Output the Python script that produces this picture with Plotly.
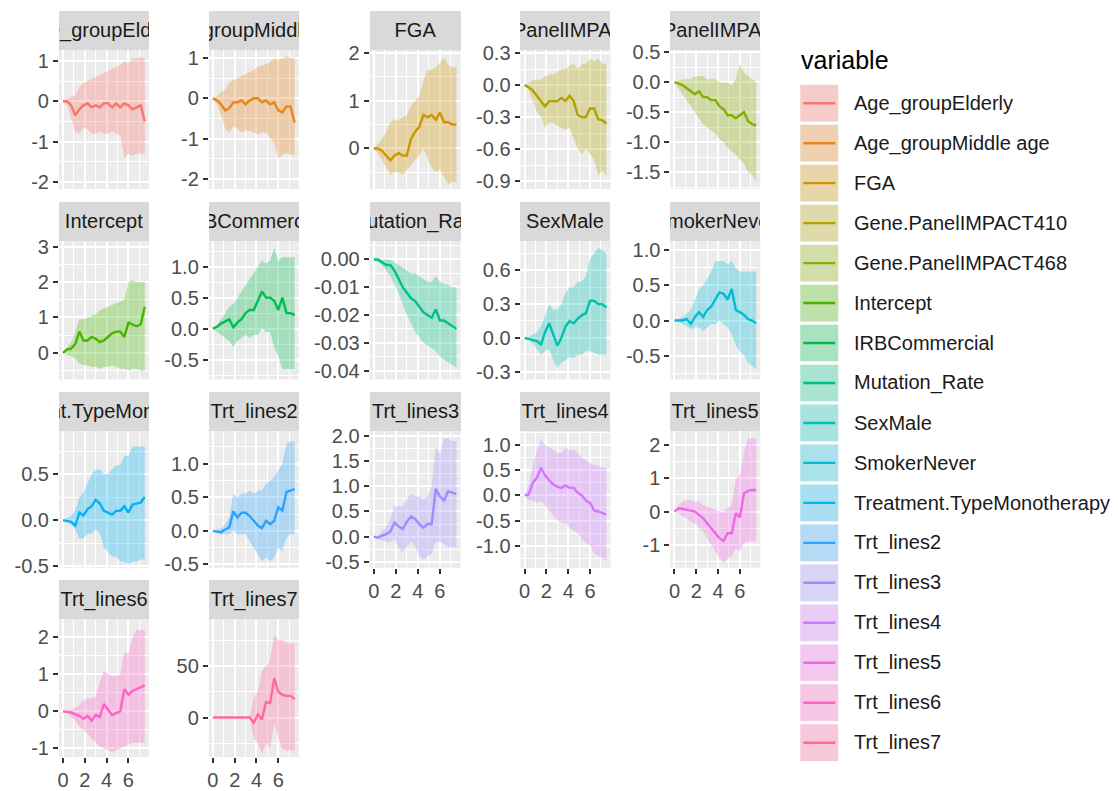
import math
import plotly.graph_objects as go

# ---------------- data ----------------
VARIABLES = ["Age_groupElderly", "Age_groupMiddle age", "FGA", "Gene.PanelIMPACT410",
             "Gene.PanelIMPACT468", "Intercept", "IRBCommercial", "Mutation_Rate", "SexMale",
             "SmokerNever", "Treatment.TypeMonotherapy", "Trt_lines2", "Trt_lines3",
             "Trt_lines4", "Trt_lines5", "Trt_lines6", "Trt_lines7"]

X_GRID = [0, 0.375, 0.75, 1.125, 1.5, 1.875, 2.25, 2.625, 3, 3.375, 3.75,
          4.125, 4.5, 4.875, 5.25, 5.625, 6, 6.375, 6.75, 7.125, 7.5]
X_TICKS = ["0", "2", "4", "6"]

ELDERLY_EST = [0, 0, -0.1, -0.35, -0.2, -0.1, -0.05, -0.15, -0.1, -0.15, -0.05, -0.05, -0.15, -0.05, -0.15, -0.05, -0.1, -0.2, -0.15, -0.1, -0.5]
ELDERLY_HI = [0, 0.05, 0.1, 0.15, 0.35, 0.45, 0.5, 0.55, 0.6, 0.65, 0.7, 0.75, 0.8, 0.85, 0.9, 1.0, 0.95, 1.05, 1.05, 1.1, 1.05]
ELDERLY_LO = [0, -0.1, -0.4, -0.75, -0.8, -0.65, -0.7, -0.8, -0.8, -0.75, -0.8, -0.8, -0.75, -0.8, -0.85, -1.4, -1.3, -1.35, -1.3, -1.3, -1.3]

MIDDLE_EST = [0, -0.05, -0.15, -0.3, -0.25, -0.1, -0.1, -0.05, -0.15, -0.05, 0.0, 0.0, -0.1, -0.05, -0.15, -0.1, -0.3, -0.35, -0.2, -0.2, -0.6]
MIDDLE_HI = [0, 0.05, 0.15, 0.2, 0.4, 0.45, 0.5, 0.55, 0.6, 0.65, 0.7, 0.8, 0.8, 0.85, 0.9, 1.0, 0.95, 1.0, 1.05, 1.0, 1.0]
MIDDLE_LO = [0, -0.15, -0.4, -0.75, -0.85, -0.7, -0.75, -0.85, -0.8, -0.8, -0.85, -0.9, -0.85, -0.85, -1.0, -1.1, -1.5, -1.4, -1.35, -1.4, -1.4]

FGA_EST = [0, 0, -0.05, -0.15, -0.25, -0.15, -0.1, -0.15, -0.15, 0.2, 0.35, 0.45, 0.7, 0.65, 0.7, 0.6, 0.75, 0.55, 0.55, 0.5, 0.5]
FGA_HI = [0, 0.1, 0.2, 0.35, 0.55, 0.6, 0.6, 0.65, 0.7, 0.9, 1.0, 1.1, 1.4, 1.65, 1.65, 1.7, 1.8, 1.9, 1.75, 1.7, 1.7]
FGA_LO = [0, -0.1, -0.25, -0.4, -0.55, -0.5, -0.5, -0.55, -0.45, -0.35, -0.25, -0.15, 0.0, -0.2, -0.4, -0.5, -0.45, -0.6, -0.75, -0.7, -0.7]

IMPACT410_EST = [0, -0.02, -0.05, -0.1, -0.15, -0.2, -0.15, -0.15, -0.15, -0.12, -0.15, -0.1, -0.15, -0.28, -0.3, -0.3, -0.22, -0.22, -0.32, -0.33, -0.36]
IMPACT410_HI = [0, 0.02, 0.05, 0.05, 0.05, 0.08, 0.1, 0.1, 0.12, 0.15, 0.15, 0.18, 0.2, 0.15, 0.2, 0.2, 0.25, 0.22, 0.25, 0.2, 0.2]
IMPACT410_LO = [0, -0.05, -0.15, -0.25, -0.3, -0.4, -0.35, -0.35, -0.38, -0.4, -0.42, -0.4, -0.5, -0.6, -0.65, -0.6, -0.65, -0.7, -0.85, -0.8, -0.85]

IMPACT468_EST = [0, -0.02, -0.05, -0.1, -0.15, -0.2, -0.15, -0.25, -0.25, -0.3, -0.3, -0.4, -0.45, -0.55, -0.55, -0.6, -0.55, -0.5, -0.65, -0.7, -0.72]
IMPACT468_HI = [0, 0.02, 0.05, 0.05, 0.05, 0.1, 0.1, 0.1, 0.05, 0.05, 0.05, 0.0, 0.0, 0.0, -0.05, 0.05, 0.3, 0.15, 0.1, 0.05, 0.0]
IMPACT468_LO = [0, -0.1, -0.2, -0.3, -0.4, -0.5, -0.6, -0.7, -0.75, -0.8, -0.85, -0.95, -1.0, -1.1, -1.15, -1.2, -1.3, -1.35, -1.5, -1.55, -1.65]

INTERCEPT_EST = [0, 0.1, 0.12, 0.25, 0.6, 0.35, 0.35, 0.45, 0.4, 0.3, 0.35, 0.45, 0.55, 0.6, 0.6, 0.45, 0.85, 0.8, 0.75, 0.8, 1.3]
INTERCEPT_HI = [0, 0.15, 0.3, 0.6, 0.95, 0.95, 1.0, 1.05, 1.1, 1.2, 1.25, 1.3, 1.35, 1.4, 1.45, 1.5, 2.0, 2.05, 2.0, 2.0, 2.0]
INTERCEPT_LO = [0, -0.05, -0.1, -0.15, -0.3, -0.35, -0.35, -0.4, -0.4, -0.45, -0.4, -0.4, -0.35, -0.4, -0.45, -0.45, -0.5, -0.45, -0.45, -0.5, -0.5]

IRB_EST = [0, 0.03, 0.08, 0.12, 0.15, 0.02, 0.1, 0.15, 0.25, 0.3, 0.3, 0.45, 0.6, 0.5, 0.5, 0.45, 0.3, 0.5, 0.25, 0.25, 0.22]
IRB_HI = [0, 0.05, 0.15, 0.25, 0.35, 0.4, 0.5, 0.6, 0.7, 0.8, 0.9, 1.0, 1.1, 1.05, 1.1, 1.3, 1.1, 1.15, 1.15, 1.15, 1.15]
IRB_LO = [0, -0.05, -0.1, -0.15, -0.2, -0.3, -0.2, -0.15, -0.1, -0.15, -0.1, -0.1, 0.0, -0.05, -0.05, -0.3, -0.45, -0.65, -0.65, -0.65, -0.65]

MUTATION_EST = [0, 0, -0.001, -0.002, -0.002, -0.004, -0.007, -0.01, -0.012, -0.014, -0.015, -0.017, -0.019, -0.02, -0.021, -0.018, -0.022, -0.022, -0.023, -0.024, -0.025]
MUTATION_HI = [0, 0.0, 0.0, 0.0, 0.0, -0.001, -0.002, -0.003, -0.004, -0.005, -0.005, -0.006, -0.007, -0.008, -0.008, -0.006, -0.008, -0.009, -0.009, -0.01, -0.01]
MUTATION_LO = [0, -0.001, -0.002, -0.004, -0.006, -0.009, -0.012, -0.016, -0.02, -0.023, -0.026, -0.028, -0.03, -0.031, -0.032, -0.033, -0.035, -0.036, -0.037, -0.038, -0.039]

SEX_EST = [0, -0.01, -0.02, -0.03, -0.06, 0.05, 0.13, 0.02, -0.07, 0.0, 0.1, 0.15, 0.13, 0.17, 0.2, 0.22, 0.33, 0.33, 0.3, 0.3, 0.27]
SEX_HI = [0, 0.01, 0.03, 0.05, 0.1, 0.2, 0.3, 0.25, 0.25, 0.3, 0.4, 0.45, 0.45, 0.5, 0.5, 0.55, 0.7, 0.75, 0.8, 0.78, 0.75]
SEX_LO = [0, -0.02, -0.05, -0.1, -0.15, -0.12, -0.1, -0.2, -0.27, -0.22, -0.2, -0.17, -0.18, -0.15, -0.15, -0.12, -0.12, -0.13, -0.15, -0.15, -0.15]

SMOKER_EST = [0, 0, 0.0, 0.02, -0.05, 0.05, 0.12, 0.05, 0.15, 0.2, 0.3, 0.4, 0.38, 0.3, 0.45, 0.15, 0.12, 0.08, 0.02, 0.0, -0.04]
SMOKER_HI = [0, 0.02, 0.05, 0.1, 0.15, 0.3, 0.45, 0.5, 0.6, 0.7, 0.85, 0.85, 0.85, 0.8, 0.85, 0.75, 0.7, 0.7, 0.7, 0.7, 0.7]
SMOKER_LO = [0, -0.02, -0.05, -0.08, -0.12, -0.1, -0.1, -0.15, -0.1, -0.05, -0.05, 0.0, -0.05, -0.1, -0.2, -0.35, -0.45, -0.5, -0.6, -0.65, -0.7]

MONO_EST = [0, -0.01, -0.02, -0.06, 0.08, 0.05, 0.12, 0.15, 0.22, 0.18, 0.1, 0.08, 0.06, 0.1, 0.1, 0.15, 0.08, 0.17, 0.18, 0.19, 0.25]
MONO_HI = [0, 0.02, 0.05, 0.1, 0.25, 0.3, 0.4, 0.5, 0.55, 0.55, 0.5, 0.5, 0.55, 0.6, 0.6, 0.7, 0.7, 0.8, 0.8, 0.8, 0.8]
MONO_LO = [0, -0.02, -0.05, -0.1, -0.2, -0.2, -0.15, -0.15, -0.1, -0.15, -0.3, -0.35, -0.4, -0.4, -0.45, -0.45, -0.48, -0.45, -0.45, -0.43, -0.43]

TRT2_EST = [0, -0.01, -0.02, 0.02, 0.05, 0.29, 0.2, 0.27, 0.27, 0.22, 0.15, 0.08, 0.04, 0.15, 0.1, 0.15, 0.35, 0.3, 0.58, 0.6, 0.62]
TRT2_HI = [0, 0.01, 0.03, 0.1, 0.2, 0.55, 0.5, 0.55, 0.55, 0.6, 0.55, 0.6, 0.6, 0.7, 0.75, 0.8, 0.9, 1.0, 1.3, 1.33, 1.33]
TRT2_LO = [0, -0.03, -0.05, -0.05, -0.05, 0.0, -0.05, -0.05, -0.05, -0.15, -0.25, -0.35, -0.45, -0.4, -0.45, -0.4, -0.25, -0.3, -0.1, -0.05, -0.05]

TRT3_EST = [0, -0.02, 0.02, 0.05, 0.1, 0.28, 0.2, 0.15, 0.3, 0.4, 0.35, 0.25, 0.18, 0.25, 0.25, 0.95, 0.8, 0.72, 0.9, 0.88, 0.85]
TRT3_HI = [0, 0.02, 0.1, 0.2, 0.35, 0.6, 0.6, 0.6, 0.75, 0.85, 0.8, 0.8, 0.75, 0.8, 1.0, 1.8, 1.65, 1.95, 1.95, 1.9, 1.9]
TRT3_LO = [0, -0.05, -0.08, -0.1, -0.1, -0.05, -0.25, -0.3, -0.2, -0.1, -0.2, -0.4, -0.45, -0.4, -0.35, -0.1, -0.1, -0.15, -0.2, -0.2, -0.2]

TRT4_EST = [0, 0.02, 0.25, 0.35, 0.55, 0.4, 0.3, 0.22, 0.17, 0.15, 0.2, 0.15, 0.15, 0.05, 0.0, -0.1, -0.15, -0.3, -0.32, -0.35, -0.38]
TRT4_HI = [0, 0.2, 0.6, 0.9, 1.1, 1.0, 0.95, 0.9, 0.85, 0.85, 0.95, 0.9, 0.9, 0.85, 0.75, 0.7, 0.65, 0.6, 0.6, 0.55, 0.55]
TRT4_LO = [0, -0.1, -0.1, -0.15, -0.1, -0.2, -0.3, -0.4, -0.5, -0.55, -0.55, -0.65, -0.7, -0.75, -0.85, -0.95, -1.0, -1.15, -1.2, -1.25, -1.3]

TRT5_EST = [0, 0.1, 0.08, 0.05, 0.02, 0.0, -0.1, -0.2, -0.35, -0.5, -0.65, -0.8, -0.88, -0.65, -0.65, -0.05, -0.17, 0.55, 0.62, 0.65, 0.65]
TRT5_HI = [0, 0.2, 0.3, 0.35, 0.35, 0.3, 0.3, 0.2, 0.15, 0.1, 0.05, 0.0, 0.0, 0.1, 0.2, 1.0, 1.1, 1.8, 2.2, 2.2, 2.2]
TRT5_LO = [0, -0.05, -0.15, -0.2, -0.3, -0.35, -0.5, -0.6, -0.8, -1.0, -1.2, -1.4, -1.55, -1.4, -1.35, -1.1, -1.2, -0.95, -0.9, -0.9, -0.9]

TRT6_EST = [0, -0.01, -0.03, -0.08, -0.12, -0.2, -0.12, -0.25, -0.1, -0.15, 0.2, 0.05, -0.1, -0.05, 0.0, 0.6, 0.45, 0.55, 0.6, 0.65, 0.7]
TRT6_HI = [0, 0.02, 0.05, 0.1, 0.15, 0.3, 0.35, 0.35, 0.4, 0.8, 1.1, 1.0, 0.95, 0.95, 1.0, 1.6, 1.55, 2.0, 2.2, 2.2, 2.2]
TRT6_LO = [0, -0.05, -0.15, -0.25, -0.4, -0.5, -0.6, -0.75, -0.85, -0.95, -1.0, -1.05, -1.1, -1.05, -1.0, -0.95, -0.9, -0.85, -0.85, -0.85, -0.85]

TRT7_EST = [0, 0, 0, 0, 0, 0, 0, 0, 0, 0, -5, 3, -2, 15, 14, 38, 25, 22, 21, 21, 18]
TRT7_HI = [0, 0, 0, 0, 0, 0, 0, 0, 0, 0, 20, 25, 45, 50, 55, 80, 75, 75, 72, 72, 72]
TRT7_LO = [0, 0, 0, 0, 0, 0, 0, 0, 0, 0, -20, -25, -35, -25, -30, -5, -20, -30, -32, -32, -32]

EST = [ELDERLY_EST, MIDDLE_EST, FGA_EST, IMPACT410_EST, IMPACT468_EST, INTERCEPT_EST, IRB_EST,
       MUTATION_EST, SEX_EST, SMOKER_EST, MONO_EST, TRT2_EST, TRT3_EST, TRT4_EST, TRT5_EST,
       TRT6_EST, TRT7_EST]
HI = [ELDERLY_HI, MIDDLE_HI, FGA_HI, IMPACT410_HI, IMPACT468_HI, INTERCEPT_HI, IRB_HI,
      MUTATION_HI, SEX_HI, SMOKER_HI, MONO_HI, TRT2_HI, TRT3_HI, TRT4_HI, TRT5_HI,
      TRT6_HI, TRT7_HI]
LO = [ELDERLY_LO, MIDDLE_LO, FGA_LO, IMPACT410_LO, IMPACT468_LO, INTERCEPT_LO, IRB_LO,
      MUTATION_LO, SEX_LO, SMOKER_LO, MONO_LO, TRT2_LO, TRT3_LO, TRT4_LO, TRT5_LO,
      TRT6_LO, TRT7_LO]

Y_TICKS = [
    ["-2", "-1", "0", "1"],
    ["-2", "-1", "0", "1"],
    ["0", "1", "2"],
    ["-0.9", "-0.6", "-0.3", "0.0", "0.3"],
    ["-1.5", "-1.0", "-0.5", "0.0", "0.5"],
    ["0", "1", "2", "3"],
    ["-0.5", "0.0", "0.5", "1.0"],
    ["-0.04", "-0.03", "-0.02", "-0.01", "0.00"],
    ["-0.3", "0.0", "0.3", "0.6"],
    ["-0.5", "0.0", "0.5", "1.0"],
    ["-0.5", "0.0", "0.5"],
    ["-0.5", "0.0", "0.5", "1.0"],
    ["-0.5", "0.0", "0.5", "1.0", "1.5", "2.0"],
    ["-1.0", "-0.5", "0.0", "0.5", "1.0"],
    ["-1", "0", "1", "2"],
    ["-1", "0", "1", "2"],
    ["0", "50"],
]

# ---------------- layout / style ----------------
W, H = 1118, 791
Y_RANGES = [[-2.17, 1.29], [-2.25, 1.22], [-0.85, 2.08], [-0.974, 0.337], [-1.78, 0.55],
            [-0.75, 3.17], [-0.82, 1.42], [-0.0432, 0.0068], [-0.37, 0.865], [-0.84, 1.14],
            [-0.52, 0.98], [-0.55, 1.5], [-0.62, 2.12], [-1.44, 1.30], [-1.69, 2.45],
            [-1.24, 2.51], [-38.5, 96]]
X_RANGE = [-0.375, 7.875]
COL_PX = [(58, 148), (208, 298), (369, 460), (520, 610), (670, 760)]
ROW_PX = [(49, 190), (242, 382), (433, 572), (623, 763)]
STRIP_H = 38
FONT = "Liberation Sans, Arial, sans-serif"
# vertical calibration of the rendered page (target pixel -> paper fraction)
Y_OFF, Y_SCALE = 7.5, 0.979


def py(t):
    return 1 - ((t - Y_OFF) / Y_SCALE) / H


def hcl_hex(h, c=100.0, l=65.0):
    hr = math.radians(h)
    u, v = c * math.cos(hr), c * math.sin(hr)
    Xn, Yn, Zn = 95.047, 100.0, 108.883
    Y = Yn * (((l + 16) / 116) ** 3 if l > 8 else l / 903.3)
    d = Xn + 15 * Yn + 3 * Zn
    un, vn = 4 * Xn / d, 9 * Yn / d
    up, vp = u / (13 * l) + un, v / (13 * l) + vn
    X = Y * 9 * up / (4 * vp)
    Z = Y * (12 - 3 * up - 20 * vp) / (4 * vp)
    x, y, z = X / 100, Y / 100, Z / 100
    rgb = [3.2404542 * x - 1.5371385 * y - 0.4985314 * z,
           -0.9692660 * x + 1.8760108 * y + 0.0415560 * z,
           0.0556434 * x - 0.2040259 * y + 1.0572252 * z]
    out = []
    for ch in rgb:
        ch = 12.92 * ch if ch <= 0.0031308 else 1.055 * ch ** (1 / 2.4) - 0.055
        out.append(int(round(min(max(ch, 0), 1) * 255)))
    return out


n = len(VARIABLES)
COLORS = [hcl_hex(15 + 360 * i / n) for i in range(n)]
ALPHA = 0.3


def rgba(c, a):
    return f"rgba({c[0]},{c[1]},{c[2]},{a})"


fig = go.Figure()
annotations = []
shapes = []

for i, name in enumerate(VARIABLES):
    r, c = divmod(i, 5)
    k = "" if i == 0 else str(i + 1)
    xa, ya = "x" + k, "y" + k
    col = COLORS[i]
    # ribbon
    fig.add_trace(go.Scatter(
        x=X_GRID + X_GRID[::-1], y=HI[i] + LO[i][::-1], xaxis=xa, yaxis=ya,
        fill="toself", fillcolor=rgba(col, ALPHA), line=dict(width=0),
        mode="lines", showlegend=False, hoverinfo="skip"))
    fig.add_trace(go.Scatter(
        x=X_GRID, y=EST[i], xaxis=xa, yaxis=ya, mode="lines",
        line=dict(color=rgba(col, 1), width=2.4), showlegend=False, name=name))

    x0, x1 = COL_PX[c]
    t, b = ROW_PX[r]
    bottom_panel = i >= 12
    tickvals = [float(s) for s in Y_TICKS[i]]
    step = tickvals[1] - tickvals[0]
    minor_vals = [tickvals[0] - step / 2] + [v + step / 2 for v in tickvals]
    fig.update_layout(**{
        "xaxis" + k: dict(
            domain=[x0 / W, x1 / W], range=X_RANGE, anchor=ya,
            tickmode="array", tickvals=[float(s) for s in X_TICKS], ticktext=X_TICKS,
            showticklabels=bottom_panel, ticks="outside" if bottom_panel else "",
            ticklen=5, tickwidth=1.6, tickcolor="#333333",
            tickfont=dict(family=FONT, size=20, color="#4D4D4D"),
            showgrid=True, gridcolor="white", gridwidth=1.8, zeroline=False, showline=False,
            minor=dict(tickmode="array", tickvals=[-1, 1, 3, 5, 7], showgrid=True,
                       gridcolor="white", gridwidth=0.9, ticks=""),
            fixedrange=True),
        "yaxis" + k: dict(
            domain=[py(b), py(t)], range=Y_RANGES[i], anchor=xa,
            tickmode="array", tickvals=tickvals, ticktext=Y_TICKS[i],
            ticks="outside", ticklen=5, tickwidth=1.6, tickcolor="#333333",
            tickfont=dict(family=FONT, size=20, color="#4D4D4D"),
            showgrid=True, gridcolor="white", gridwidth=1.8, zeroline=False, showline=False,
            minor=dict(tickmode="array", tickvals=minor_vals, showgrid=True,
                       gridcolor="white", gridwidth=0.9, ticks=""),
            fixedrange=True),
    })
    # strip
    annotations.append(dict(
        xref="paper", yref="paper", x=(x0 + x1) / 2 / W, y=py(t - STRIP_H / 2),
        xanchor="center", yanchor="middle", text=name, showarrow=False,
        width=x1 - x0, height=STRIP_H / Y_SCALE, bgcolor="#D9D9D9", borderpad=0, borderwidth=0,
        align="center", valign="middle",
        font=dict(family=FONT, size=20, color="#1A1A1A")))

# legend (drawn manually, ggplot style)
LEG_X0, LEG_X1 = 800, 838
LEG_TOP, LEG_STEP, KEY_H = 85, 40.3, 37
annotations.append(dict(xref="paper", yref="paper", x=799 / W, y=py(60),
                        xanchor="left", yanchor="middle", text="variable", showarrow=False,
                        font=dict(family=FONT, size=25, color="#000000")))
for i, name in enumerate(VARIABLES):
    top = LEG_TOP + i * LEG_STEP
    bot = top + KEY_H
    mid = (top + bot) / 2
    shapes.append(dict(type="rect", xref="paper", yref="paper",
                       x0=LEG_X0 / W, x1=LEG_X1 / W, y0=py(bot), y1=py(top),
                       fillcolor="#F2F2F2", line=dict(width=0), layer="above"))
    shapes.append(dict(type="rect", xref="paper", yref="paper",
                       x0=LEG_X0 / W, x1=LEG_X1 / W, y0=py(bot), y1=py(top),
                       fillcolor=rgba(COLORS[i], ALPHA), line=dict(width=0), layer="above"))
    shapes.append(dict(type="line", xref="paper", yref="paper",
                       x0=(LEG_X0 + 3) / W, x1=(LEG_X1 - 3) / W, y0=py(mid), y1=py(mid),
                       line=dict(color=rgba(COLORS[i], 1), width=2.4), layer="above"))
    annotations.append(dict(xref="paper", yref="paper", x=852 / W, y=py(mid),
                            xanchor="left", yanchor="middle", text=name, showarrow=False,
                            font=dict(family=FONT, size=20, color="#1A1A1A")))

fig.update_layout(width=W, height=H, autosize=False,
                  margin=dict(l=0, r=0, t=0, b=0),
                  paper_bgcolor="white", plot_bgcolor="#EBEBEB",
                  showlegend=False, annotations=annotations, shapes=shapes,
                  font=dict(family=FONT))

fig.write_html("out.html", config={"displayModeBar": False})
